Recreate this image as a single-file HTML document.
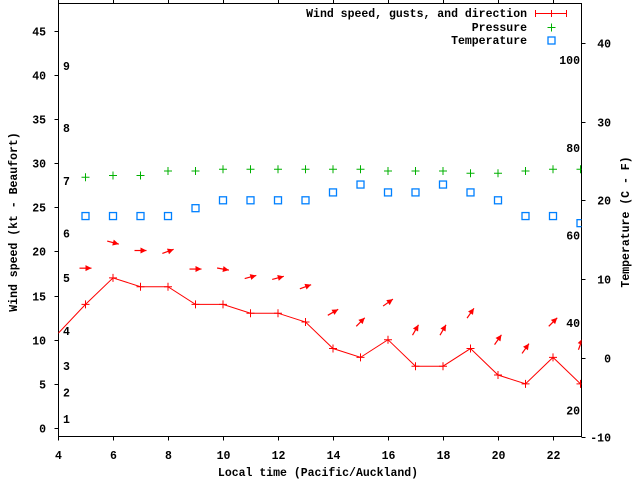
<!DOCTYPE html>
<html><head><meta charset="utf-8"><style>
body{margin:0;background:#fff}
svg{display:block;font-family:"Liberation Mono",monospace;font-weight:bold;font-size:11.5px}
</style></head><body>
<svg id="chart" width="640" height="480" viewBox="0 0 640 480"></svg>
<script>
const hours=[5,6,7,8,9,10,11,12,13,14,15,16,17,18,19,20,21,22,23];
const windHours=[3,5,6,7,8,9,10,11,12,13,14,15,16,17,18,19,20,21,22,23];
const wind=[7.4,14,17,16,16,14,14,13,13,12,9,8,10,7,7,9,6,5,8,5];
const pressure=[28.4,28.6,28.6,29.1,29.1,29.3,29.3,29.3,29.3,29.3,29.3,29.1,29.1,29.1,28.85,28.85,29.1,29.3,29.3];
const tempC=[18,18,18,18,19,20,20,20,20,21,22,21,21,22,21,20,18,18,17.1];
const gust=[18.1,21,20.1,20,18,18,17.1,17,16,13.1,12,14.2,11.1,11.1,13,10,9,12,9.5];
const dirDeg=[0,-15,0,20,0,-10,15,15,20,30,45,35,60,60,55,55,55,45,70];
const xTicks=[4,6,8,10,12,14,16,18,20,22];
const yTicks=[0,5,10,15,20,25,30,35,40,45];
const cTicks=[-10,0,10,20,30,40];
const fTicks=[20,40,60,80,100];
const beaufortLabels=["1","2","3","4","5","6","7","8","9"];
const beaufortKt=[1,4,7,11,17,22,28,34,41];

const L=58.5,R=581.5,T=3.5,B=436.5;
const X=h=>58+(h-4)*27.5;
const Y=v=>428-v*8.83;
const YC=c=>436.7-(c+10)*7.88;
const YF=f=>YC((f-32)*5/9);
const svg=document.getElementById('chart');
const NS='http://www.w3.org/2000/svg';
function mk(tag,attrs,parent){const e=document.createElementNS(NS,tag);for(const k in attrs)e.setAttribute(k,attrs[k]);(parent||svg).appendChild(e);return e;}
function txt(x,y,s,anchor){const t=mk('text',{x:x,y:y,'text-anchor':anchor||'start'});t.textContent=s;return t;}

const defs=mk('defs',{});
const cp=mk('clipPath',{id:'clip'},defs);mk('rect',{x:L,y:T,width:R-L,height:B-T},cp);

const frame=mk('rect',{x:L,y:T,width:R-L,height:B-T,fill:'none',stroke:'#000','stroke-width':1});



xTicks.forEach(h=>{
 const x=Math.round(X(h))+0.5;
 mk('line',{x1:x,y1:B,x2:x,y2:B+4,stroke:'#000'});
 mk('line',{x1:x,y1:T,x2:x,y2:T-4,stroke:'#000'});
 const t=txt(x,459,String(h),'middle');
 
 
});
yTicks.forEach(v=>{
 const y=Math.round(Y(v))+0.5;
 mk('line',{x1:L-4,y1:y,x2:L,y2:y,stroke:'#000'});
 const t=txt(46,y+4,String(v),'end');
 
 
});
cTicks.forEach(c=>{
 const y=Math.round(YC(c))+0.5;
 mk('line',{x1:R,y1:y,x2:R+4,y2:y,stroke:'#000'});
 const t=txt(611,y+4,String(c),'end');
 
 
});
fTicks.forEach(f=>{
 const t=txt(580,YF(f)+4,String(f),'end');
 
 
});
beaufortLabels.forEach((b,i)=>{
 const t=txt(63,Y(beaufortKt[i])+4,b,'start');
 
 
});

let t=txt(318,476,'Local time (Pacific/Auckland)','middle');

t=txt(0,0,'Wind speed (kt - Beaufort)','middle');t.setAttribute('transform','translate(17,222) rotate(-90)');

t=txt(0,0,'Temperature (C - F)','middle');t.setAttribute('transform','translate(629,222) rotate(-90)');


const g=mk('g',{'clip-path':'url(#clip)'});



const pl=mk('polyline',{points:windHours.map((h,i)=>X(h)+','+Y(wind[i])).join(' '),fill:'none',stroke:'#f00','stroke-width':1},g);


windHours.forEach((h,i)=>{
 const x=X(h),y=Y(wind[i]);
 const p=mk('path',{d:`M${x-4},${y}H${x+4}M${x},${y-4}V${y+4}`,stroke:'#f00','stroke-width':1},g);
 
 
});
hours.forEach((h,i)=>{
 const x=X(h),y=Y(pressure[i]);
 const p=mk('path',{d:`M${x-4},${y}H${x+4}M${x},${y-4}V${y+4}`,stroke:'#00b000','stroke-width':1},g);
 
 
});
hours.forEach((h,i)=>{
 const x=X(h),y=YC(tempC[i]);
 const r=mk('rect',{x:x-3.5,y:y-3.5,width:7,height:7,fill:'none',stroke:'#0080ff','stroke-width':1.3},g);
 
 
});
hours.forEach((h,i)=>{
 const cx=X(h),cy=Y(gust[i]),a=dirDeg[i]*Math.PI/180;
 const dx=Math.cos(a),dy=-Math.sin(a);
 const x1=cx-6*dx,y1=cy-6*dy,x2=cx+6*dx,y2=cy+6*dy;
 const px=-dy,py=dx;
 const ag=mk('g',{},g);
 
 
 mk('line',{x1:x1,y1:y1,x2:x2,y2:y2,stroke:'#f00','stroke-width':1.2},ag);
 const bx=x2-6*dx,by=y2-6*dy;
 mk('polygon',{points:`${x2},${y2} ${bx+3*px},${by+3*py} ${bx-3*px},${by-3*py}`,fill:'#f00'},ag);
});

const lg=mk('g',{});


const legendNames=['Wind speed, gusts, and direction','Pressure','Temperature'];
const ly=[13,27,40];
legendNames.forEach((n,i)=>{const tt=txt(527,ly[i]+4,n,'end');lg.appendChild(tt);
 
 });
mk('path',{d:'M535,13.5H567M535.5,10V17M566.5,10V17M551.5,10V17',stroke:'#f00'},lg);
mk('path',{d:'M547.5,27.5H555.5M551.5,23.5V31.5',stroke:'#00b000'},lg);
mk('rect',{x:548,y:37,width:7,height:7,fill:'none',stroke:'#0080ff','stroke-width':1.3},lg);
</script>
</body></html>
